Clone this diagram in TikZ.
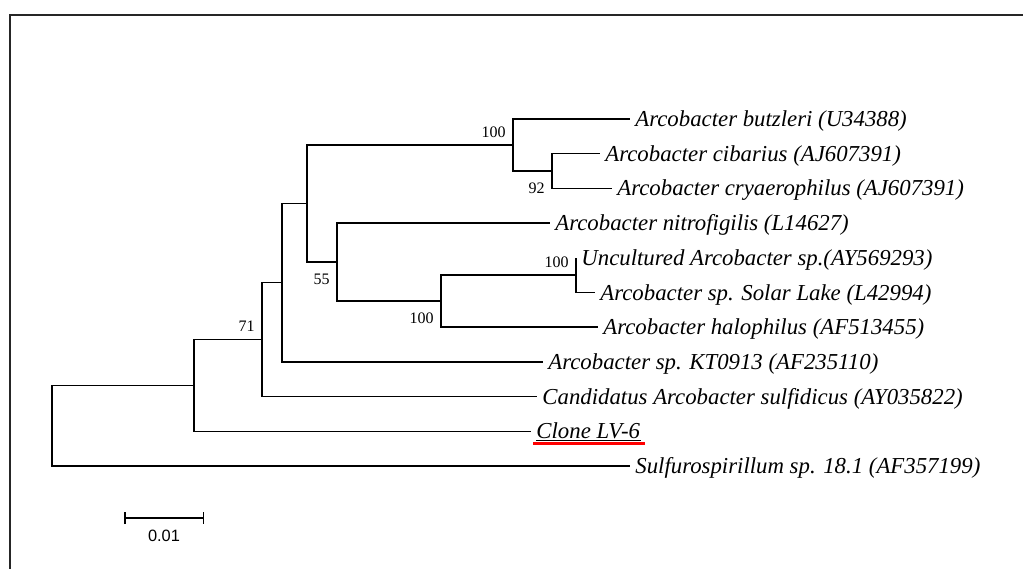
\documentclass[tikz,border=0pt]{standalone}
\usepackage{fontspec}
\setmainfont{Liberation Serif}
\setsansfont{Liberation Sans}
\usetikzlibrary{arrows.meta}

\begin{document}
\begin{tikzpicture}[
            x=0.5pt, y=-0.5pt,
            branch/.style={draw=black, line width=0.75pt},
            leaf/.style={anchor=west, inner xsep=2.5pt, inner ysep=0pt, text height=7.5pt, text depth=0pt, font=\itshape\fontsize{11.4}{13}\selectfont},
            boot/.style={anchor=east, inner sep=0pt, font=\fontsize{8}{9}\selectfont},
            bsabove/.style={boot, xshift=-3.5pt, yshift=6.5pt},
            bsbelow/.style={boot, xshift=-3.5pt, yshift=-8.5pt},
            frame/.style={line width=1.25pt, black!85},
            scalebar/.style={line width=0.75pt, {Bar[width=6pt]}-{Bar[width=6pt]}},
            scalelabel/.style={inner sep=0pt, font=\sffamily\fontsize{8.2}{10}\selectfont}
        ]
            \useasboundingbox (0,0) rectangle (1023,569);

            \coordinate (fTR) at (1023,15);
            \coordinate (fTL) at (10,15);
            \coordinate (fBL) at (10,569);
            \draw[frame] (fTR) -- (fTL) -- (fBL);

            \coordinate (R) at (52,425.7);
            \coordinate (G) at (194,385.5);
            \coordinate (F) at (262,339.7);
            \coordinate (E) at (282,282.7);
            \coordinate (B) at (307,203.6);
            \coordinate (A) at (513,145);
            \coordinate (H) at (552,171);
            \coordinate (C) at (337,262.1);
            \coordinate (D) at (441,301.2);
            \coordinate (U) at (576,275.2);

            \node[leaf] (butz) at (630,119) {Arcobacter butzleri (U34388)};
            \node[leaf] (cib) at (600,153.7) {Arcobacter cibarius (AJ607391)};
            \node[leaf] (cry) at (612,188.4) {Arcobacter cryaerophilus (AJ607391)};
            \node[leaf] (nitro) at (550,223.1) {Arcobacter nitrofigilis (L14627)};
            \node[leaf] (unc) at (576,257.8) {Uncultured Arcobacter sp.(AY569293)};
            \node[leaf] (solar) at (595,292.5) {Arcobacter sp. Solar Lake (L42994)};
            \node[leaf] (halo) at (598,327.2) {Arcobacter halophilus (AF513455)};
            \node[leaf] (kt) at (543,361.9) {Arcobacter sp. KT0913 (AF235110)};
            \node[leaf] (cand) at (537,396.6) {Candidatus Arcobacter sulfidicus (AY035822)};
            \node[leaf] (clone) at (531,431.3) {Clone LV-6};
            \node[leaf] (sulf) at (630,466) {Sulfurospirillum sp. 18.1 (AF357199)};

            \draw[branch] (R) |- (G);  \draw[branch] (R) |- (sulf.west);
            \draw[branch] (G) |- (F);  \draw[branch] (G) |- (clone.west);
            \draw[branch] (F) |- (E);  \draw[branch] (F) |- (cand.west);
            \draw[branch] (E) |- (B);  \draw[branch] (E) |- (kt.west);
            \draw[branch] (B) |- (A);  \draw[branch] (B) |- (C);
            \draw[branch] (A) |- (butz.west);  \draw[branch] (A) |- (H);
            \draw[branch] (H) |- (cib.west);  \draw[branch] (H) |- (cry.west);
            \draw[branch] (C) |- (nitro.west);  \draw[branch] (C) |- (D);
            \draw[branch] (D) |- (U);  \draw[branch] (D) |- (halo.west);
            \draw[branch] (U) |- (unc.west);  \draw[branch] (U) |- (solar.west);

            \node[bsabove] (bsA) at (A) {100};
            \node[bsbelow] (bsH) at (H) {92};
            \node[bsbelow] (bsC) at (C) {55};
            \node[bsbelow] (bsD) at (D) {100};
            \node[bsabove] (bsU) at (U) {100};
            \node[bsabove] (bsF) at (F) {71};

            \draw[line width=0.5pt] ([xshift=2.5pt,yshift=-0.75pt]clone.south west) -- ([xshift=-2pt,yshift=-0.75pt]clone.south east);
            \draw[red, line width=1.5pt] ([xshift=1pt,yshift=-2.2pt]clone.south west) -- ([yshift=-2.2pt]clone.south east);

            \coordinate (sbL) at (124,518);
            \coordinate (sbR) at (204,518);
            \draw[scalebar] (sbL) -- (sbR);
            \path (sbL) -- node[scalelabel, yshift=-9pt] (sblabel) {0.01} (sbR);
        \end{tikzpicture}
\end{document}
